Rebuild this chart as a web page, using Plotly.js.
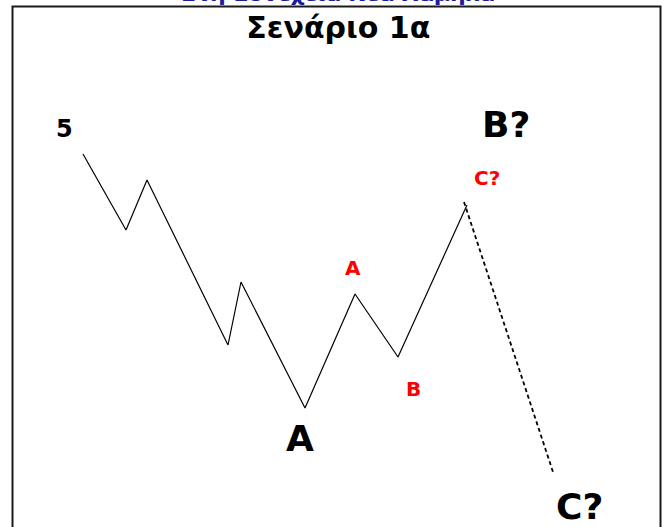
<!DOCTYPE html>
<html><head><meta charset="utf-8">
<script src="https://cdn.plot.ly/plotly-3.0.1.min.js"></script>
<style>html,body{margin:0;padding:0;background:#fff}#c{width:666px;height:527px}</style>
</head><body><div id="c"></div>
<script>
// Wave path (time index, price level)
var waveX = [83, 126, 147, 228, 241, 305, 355, 398, 467];
var waveY = [373, 297, 347, 182, 245, 119, 233, 170, 322];
// Projected leg (dashed)
var projX = [464, 553];
var projY = [325, 55];
// Labels
var labelText = ['5', 'B?', 'C?', 'A', 'B', 'A', 'C?'];
var labelX = [64, 506, 487, 353, 413, 300, 579];
var labelY = [398, 403, 349, 259, 138, 89, 21];
var labelColor = ['#000', '#000', '#ff0000', '#ff0000', '#ff0000', '#000', '#000'];
var labelSize = [24, 36, 20, 20, 20, 36, 36];
var titleText = 'Σενάριο 1α';
var topText = 'Στη Συνέχεια Νέα Χαμηλά';

var ann = labelText.map(function(t, i){
  return {x: labelX[i], y: labelY[i], xref: 'x', yref: 'y', text: '<b>' + t + '</b>', showarrow: false,
    font: {family: 'DejaVu Sans', size: labelSize[i], color: labelColor[i]}, xanchor: 'center', yanchor: 'middle'};
});
ann.push({x: 0.508, y: 1, xref: 'paper', yref: 'paper', yshift: 21, text: '<b>' + topText + '</b>', showarrow: false,
  font: {family: 'DejaVu Sans', size: 22, color: '#1c1c96'}, xanchor: 'center', yanchor: 'top'});

var layout = {
  width: 666, height: 527,
  margin: {l: 0, r: 0, t: 0, b: 0},
  paper_bgcolor: '#fff', plot_bgcolor: '#fff',
  showlegend: false,
  title: {text: '<b>' + titleText + '</b>', x: 0.508, xanchor: 'center', y: 0.948, yanchor: 'middle',
    font: {family: 'DejaVu Sans', size: 30, color: '#000'}},
  xaxis: {range: [0, 666], visible: false, fixedrange: true},
  yaxis: {range: [0, 527], visible: false, fixedrange: true},
  annotations: ann,
  shapes: [{type: 'rect', xref: 'paper', yref: 'paper', x0: 12.5/666, x1: 660.5/666, y0: -0.05, y1: 1 - 6.5/527,
    line: {color: '#1a1a1a', width: 2}}]
};
var data = [
  {x: waveX, y: waveY, mode: 'lines', line: {color: '#000', width: 1.2}, hoverinfo: 'skip'},
  {x: projX, y: projY, mode: 'lines', line: {color: '#000', width: 1.8, dash: '4px,3px'}, hoverinfo: 'skip'}
];
Plotly.newPlot('c', data, layout, {displayModeBar: false, staticPlot: true});
</script></body></html>
